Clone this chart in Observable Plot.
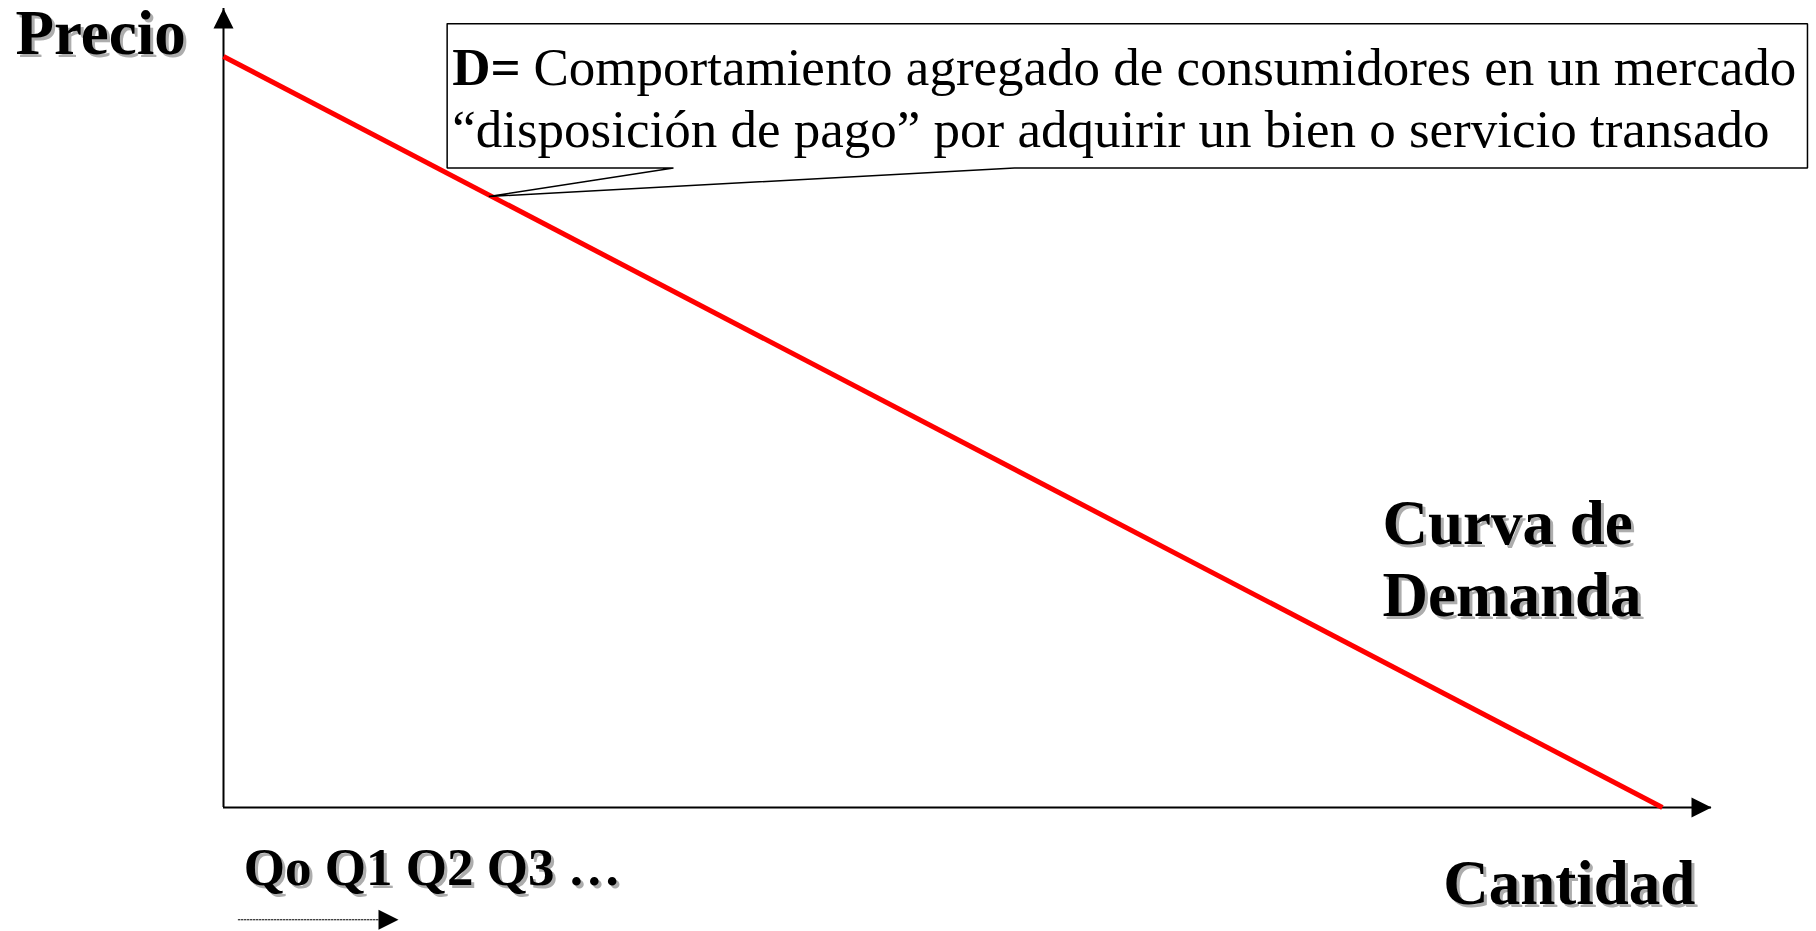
<!DOCTYPE html>
<html>
<head>
<meta charset="utf-8">
<script src="https://cdn.jsdelivr.net/npm/d3@7"></script>
<script src="https://cdn.jsdelivr.net/npm/@observablehq/plot@0.6"></script>
<style>
  html, body { margin: 0; padding: 0; background: #ffffff; }
  #chart svg { display: block; }
</style>
</head>
<body>
<div id="chart"></div>
<script>
// ---- Data (abstract units 0–100 on both axes) ----
const quantity = [0, 96.7];          // Cantidad
const price = [94.0, 0];             // Precio
const yAxisLabel = "Precio";
const xAxisLabel = "Cantidad";
const curveLabel = "Curva de\nDemanda";
const quantitySteps = "Qo Q1 Q2 Q3 …";
const calloutBold = "D=";
const calloutLine1 = "Comportamiento agregado de consumidores en un mercado";
const calloutLine2 = "“disposición de pago” por adquirir un bien o servicio transado";

// ---- Layout (annotation placement, in scale units) ----
const layout = {
  yLabel: {x: -13.98, y: 94.33},
  xLabel: {x: 81.97, y: -12.02},
  curve: {x: 77.89, y: 24.03},
  steps: {x: 1.36, y: -9.76},
  stepsArrow: {x1: 1.0, x2: 10.6, tip: 11.76, y: -14.05},
  box: {x1: 15.03, x2: 106.45, top: 98.09, bottom: 80.04, base1: 30.24, base2: 53.16, tipX: 17.83, tipY: 76.47},
  text: {x: 15.37, xRest: 20.83, y1: 90.45, y2: 82.64}
};

const demand = quantity.map((q, i) => ({q, p: price[i]}));

const serif = "'Liberation Serif', 'Times New Roman', Times, serif";
const shadow = "#adadad";

const arrowUp = {draw(ctx) { ctx.moveTo(0, 0); ctx.lineTo(10, 20); ctx.lineTo(-10, 20); ctx.closePath(); }};
const arrowRight = {draw(ctx) { ctx.moveTo(0, 0); ctx.lineTo(-20, -10); ctx.lineTo(-20, 10); ctx.closePath(); }};

function shadowText(pos, text, opts) {
  const d = [{x: pos.x, y: pos.y, t: text}];
  const base = {x: "x", y: "y", text: "t", textAnchor: "start", lineAnchor: "bottom",
    fontFamily: serif, fontWeight: "bold", ...opts};
  return [
    Plot.text(d, {...base, fill: shadow, dx: 3, dy: 3}),
    Plot.text(d, {...base, fill: "black"})
  ];
}

const B = layout.box;
const outline = [
  {x: B.x1, y: B.top}, {x: B.x2, y: B.top}, {x: B.x2, y: B.bottom},
  {x: B.base2, y: B.bottom}, {x: B.tipX, y: B.tipY}, {x: B.base1, y: B.bottom},
  {x: B.x1, y: B.bottom}, {x: B.x1, y: B.top}
];
const T = layout.text;
const SA = layout.stepsArrow;

const chart = Plot.plot({
  width: 1816,
  height: 931,
  marginLeft: 223,
  marginRight: 105,
  marginTop: 8,
  marginBottom: 124,
  style: {background: "#ffffff", overflow: "visible"},
  x: {domain: [0, 100], axis: null},
  y: {domain: [0, 100], axis: null},
  marks: [
    // axes
    Plot.ruleX([0], {stroke: "black", strokeWidth: 2}),
    Plot.ruleY([0], {stroke: "black", strokeWidth: 2}),
    Plot.dot([{x: 0, y: 100}], {x: "x", y: "y", symbol: arrowUp, fill: "black", stroke: "none"}),
    Plot.dot([{x: 100, y: 0}], {x: "x", y: "y", symbol: arrowRight, fill: "black", stroke: "none"}),
    // demand curve
    Plot.line(demand, {x: "q", y: "p", stroke: "#ff0000", strokeWidth: 5, strokeLinecap: "butt"}),
    // callout
    Plot.rect([B], {x1: "x1", x2: "x2", y1: "bottom", y2: "top", fill: "white"}),
    Plot.line(outline, {x: "x", y: "y", stroke: "black", strokeWidth: 1.5, strokeLinejoin: "miter"}),
    Plot.text([{x: T.x, y: T.y1, t: calloutBold}], {x: "x", y: "y", text: "t", textAnchor: "start", lineAnchor: "bottom",
      fontFamily: serif, fontWeight: "bold", fontSize: 53, fill: "black"}),
    Plot.text([{x: T.xRest, y: T.y1, t: calloutLine1}], {x: "x", y: "y", text: "t", textAnchor: "start", lineAnchor: "bottom",
      fontFamily: serif, fontSize: 53, fill: "black"}),
    Plot.text([{x: T.x, y: T.y2, t: calloutLine2}], {x: "x", y: "y", text: "t", textAnchor: "start", lineAnchor: "bottom",
      fontFamily: serif, fontSize: 53, fill: "black"}),
    // labels
    ...shadowText(layout.yLabel, yAxisLabel, {fontSize: 63}),
    ...shadowText(layout.xLabel, xAxisLabel, {fontSize: 63}),
    ...shadowText(layout.curve, curveLabel, {fontSize: 63, lineHeight: 1.143}),
    ...shadowText(layout.steps, quantitySteps, {fontSize: 53}),
    // dotted arrow under quantity steps
    Plot.line([{x: SA.x1, y: SA.y}, {x: SA.x2, y: SA.y}], {x: "x", y: "y", stroke: "black", strokeWidth: 1.2, strokeDasharray: "1.5,1.5"}),
    Plot.dot([{x: SA.tip, y: SA.y}], {x: "x", y: "y", symbol: arrowRight, fill: "black", stroke: "none"})
  ]
});

document.getElementById("chart").appendChild(chart);
</script>
</body>
</html>
